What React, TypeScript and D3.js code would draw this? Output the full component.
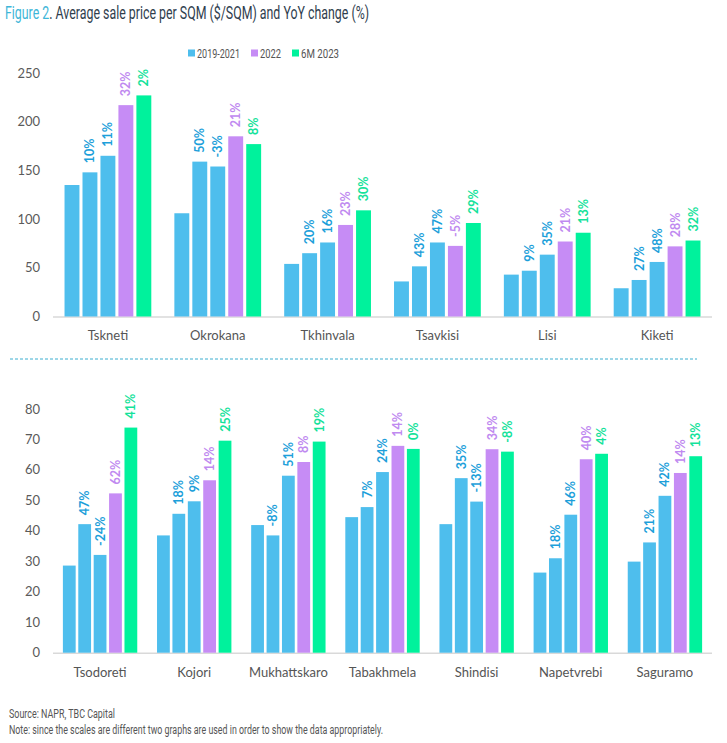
import React from "react";
import * as d3 from "d3";

const seriesNames = ["2019", "2020", "2021", "2022", "6M 2023"];
const legendLabels = ["2019-2021", "2022", "6M 2023"];

const topCategories = ["Tskneti", "Okrokana", "Tkhinvala", "Tsavkisi", "Lisi", "Kiketi"];
const topValues = [
  [135, 148, 165, 217, 227],
  [106, 159, 154, 185, 177],
  [54, 65, 76, 94, 109],
  [36, 51.5, 76, 72.5, 96],
  [43, 47, 63.5, 77, 86],
  [29, 37.5, 56, 72, 78],
];
const topChanges = [
  ["10%", "11%", "32%", "2%"],
  ["50%", "-3%", "21%", "8%"],
  ["20%", "16%", "23%", "30%"],
  ["43%", "47%", "-5%", "29%"],
  ["9%", "35%", "21%", "13%"],
  ["27%", "48%", "28%", "32%"],
];
const topTicks = [0, 50, 100, 150, 200, 250];

const bottomCategories = ["Tsodoreti", "Kojori", "Mukhattskaro", "Tabakhmela", "Shindisi", "Napetvrebi", "Saguramo"];
const bottomValues = [
  [28.6, 42.2, 32.1, 52.3, 73.9],
  [38.5, 45.6, 49.7, 56.6, 69.6],
  [41.9, 38.5, 58.1, 62.6, 69.3],
  [44.5, 47.8, 59.3, 67.9, 66.9],
  [42.2, 57.3, 49.6, 66.8, 66.0],
  [26.3, 31.0, 45.3, 63.5, 65.3],
  [29.9, 36.2, 51.5, 59.0, 64.5],
];
const bottomChanges = [
  ["47%", "-24%", "62%", "41%"],
  ["18%", "9%", "14%", "25%"],
  ["-8%", "51%", "8%", "19%"],
  ["7%", "24%", "14%", "0%"],
  ["35%", "-13%", "34%", "-8%"],
  ["18%", "46%", "40%", "4%"],
  ["21%", "42%", "14%", "13%"],
];
const bottomTicks = [0, 10, 20, 30, 40, 50, 60, 70, 80];

const BAR_COLORS = ["#4ebeed", "#4ebeed", "#4ebeed", "#c68cf5", "#00f29c"];
const LABEL_COLORS = ["#1d9fda", "#1d9fda", "#1d9fda", "#c08af0", "#14e29a"];
const LEGEND_COLORS = ["#4ebeed", "#c68cf5", "#00f29c"];
const FONT = "Lato, 'Open Sans', sans-serif";

type PanelProps = {
  categories: string[];
  values: number[][];
  changes: string[][];
  ticks: number[];
  yMax: number;
  y0: number;
  y1: number;
  catY: number;
};

function Panel({ categories, values, changes, ticks, yMax, y0, y1, catY }: PanelProps) {
  const x = d3.scaleBand<string>().domain(categories).range([53, 712]).paddingInner(0.21).paddingOuter(0.105);
  const xi = d3.scaleBand<string>().domain(seriesNames).range([0, x.bandwidth()]).paddingInner(0.17);
  const y = d3.scaleLinear().domain([0, yMax]).range([y0, y1]);
  return (
    <g>
      {ticks.map((t) => (
        <text key={t} x={40} y={y(t)} dy="0.35em" textAnchor="end" fontSize={13} fill="#5a5a5a" fontFamily={FONT}>
          {t}
        </text>
      ))}
      <line x1={53} x2={712} y1={y(0) + 0.5} y2={y(0) + 0.5} stroke="#d9d9d9" strokeWidth={1.5} />
      {categories.map((c, ci) => (
        <g key={c} transform={`translate(${x(c)},0)`}>
          {values[ci].map((v, si) => {
            const bx = xi(seriesNames[si])!;
            return (
              <rect key={si} x={bx} y={y(v)} width={xi.bandwidth()} height={y(0) - y(v)} fill={BAR_COLORS[si]} />
            );
          })}
          {changes[ci].map((lab, k) => {
            const si = k + 1;
            const cx = xi(seriesNames[si])! + xi.bandwidth() / 2;
            const ty = y(values[ci][si]) - 9;
            return (
              <text
                key={k}
                transform={`translate(${cx},${ty}) rotate(-90)`}
                dy="0.36em"
                fontSize={12.5}
                fontWeight={700}
                fill={LABEL_COLORS[si]}
                fontFamily={FONT}
              >
                {lab}
              </text>
            );
          })}
          <text x={x.bandwidth() / 2} y={catY} textAnchor="middle" fontSize={13} fill="#555" fontFamily={FONT}>
            {c}
          </text>
        </g>
      ))}
    </g>
  );
}

export default function App() {
  const legendX = [188, 251, 292];
  const legendW = [43, 21, 38];
  return (
    <svg width={727} height={743} style={{ display: "block", position: "absolute", left: 0, top: 0 }}>
      <rect width={727} height={743} fill="#fff" />
      <text x={5} y={19} fontSize={18} fontFamily="Roboto, sans-serif" textLength={364} lengthAdjust="spacingAndGlyphs">
        <tspan fill="#3eb6d8">Figure 2</tspan>
        <tspan fill="#2f3e4e">. Average sale price per SQM ($/SQM) and YoY change (%)</tspan>
      </text>
      {legendLabels.map((l, i) => (
        <g key={l}>
          <rect x={legendX[i]} y={49.5} width={7} height={7} fill={LEGEND_COLORS[i]} />
          <text
            x={legendX[i] + 9}
            y={53.5}
            dy="0.35em"
            fontSize={13.5}
            fill="#555"
            fontFamily="Roboto, sans-serif"
            textLength={legendW[i]}
            lengthAdjust="spacingAndGlyphs"
          >
            {l}
          </text>
        </g>
      ))}
      <Panel
        categories={topCategories}
        values={topValues}
        changes={topChanges}
        ticks={topTicks}
        yMax={250}
        y0={316.5}
        y1={73}
        catY={340}
      />
      <line x1={10} x2={697} y1={359} y2={359} stroke="#3aaed0" strokeWidth={1} strokeDasharray="3,2" />
      <Panel
        categories={bottomCategories}
        values={bottomValues}
        changes={bottomChanges}
        ticks={bottomTicks}
        yMax={80}
        y0={652.7}
        y1={409}
        catY={677}
      />
      <text x={9} y={718} fontSize={12} fill="#555" fontFamily="Roboto, sans-serif" textLength={106} lengthAdjust="spacingAndGlyphs">
        Source: NAPR, TBC Capital
      </text>
      <text x={9} y={734} fontSize={12} fill="#555" fontFamily="Roboto, sans-serif" textLength={374} lengthAdjust="spacingAndGlyphs">
        Note: since the scales are different two graphs are used in order to show the data appropriately.
      </text>
    </svg>
  );
}
